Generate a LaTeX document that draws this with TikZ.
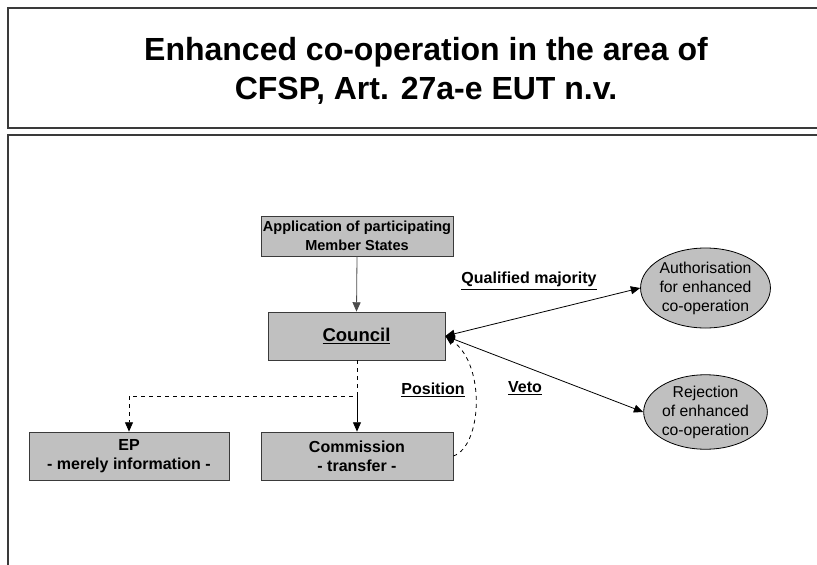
\documentclass[tikz,border=0pt]{standalone}
\usepackage{fontspec}
\setmainfont{Liberation Sans}
\usetikzlibrary{shapes.geometric,arrows.meta}
\definecolor{boxgray}{HTML}{C0C0C0}
\definecolor{framegray}{HTML}{3A3A3A}
\begin{document}
\begin{tikzpicture}[x=0.75pt,y=-0.75pt,
  frame/.style={draw=framegray,line width=1.1pt},
  box/.style={draw=framegray,fill=boxgray,line width=0.6pt,rectangle,inner sep=0pt,align=center,
    font=\bfseries\fontsize{12}{14.25}\selectfont},
  oval/.style={draw=black,fill=boxgray,line width=0.6pt,ellipse,inner sep=0pt,align=center,
    minimum width=90.75pt,font=\fontsize{11.8}{14.25}\selectfont},
  lbl/.style={font=\bfseries\fontsize{12}{14}\selectfont,inner sep=0pt},
  tip/.style={-{Triangle[length=7pt,width=6pt]}},
  tips/.style={{Triangle[length=7pt,width=6pt]}-{Triangle[length=7pt,width=6pt]}},
  link/.style={line width=0.6pt,black}
]
\useasboundingbox (0,0) rectangle (817,564);
\clip (0,0) rectangle (817,564);

% page frames
\draw[frame] (840,8) -- (8,8) -- (8,128) -- (840,128);
\draw[frame] (840,135) -- (8,135) -- (8,600);

% heading
\node[font=\bfseries\fontsize{24}{29}\selectfont,align=center] (title) at (426,71)
  {Enhanced co-operation in the area of\\CFSP, Art. 27a-e EUT n.v.};

% boxes
\node[box,minimum width=144pt,minimum height=30pt,font=\bfseries\fontsize{10.9}{14.25}\selectfont]
  (app) at (357,236) {Application of participating\\Member States};
\node[box,minimum width=132.75pt,minimum height=36pt,font=\bfseries\fontsize{13.9}{16}\selectfont]
  (council) at (356.5,336) {\underline{Council}};
\node[box,minimum width=150pt,minimum height=36pt] (ep) at (129,456) {EP\\- merely information -};
\node[box,minimum width=144pt,minimum height=36pt] (com) at (357,456) {Commission\\- transfer -};

% outcomes
\node[oval,minimum height=60pt] (auth) at (705.5,288) {Authorisation\\for enhanced\\co-operation};
\node[oval,minimum height=54pt] (rej) at (705.5,412) {Rejection\\of enhanced\\co-operation};

% connectors
\draw[link,tip,draw=black!70] (app.south) -- (council.north);
\coordinate (fork) at (357,396);
\draw[link,dashed,tip] (council.south -| fork) -- (fork) -| (ep.north);
\draw[link,tip] (fork) -- (com.north);
\draw[link,tips] (council.east) -- (auth.west);
\draw[link,tips] (council.east) -- (rej.west);
\draw[link,dashed,tip] (com.east) .. controls (482,446) and (486,365) .. (council.east);

% labels
\node[lbl] (qm) at (529,281) {\underline{Qualified majority}};
\node[lbl] (veto) at (525,388) {\underline{Veto}};
\node[lbl] (pos) at (433,390) {\underline{Position}};
\end{tikzpicture}
\end{document}
